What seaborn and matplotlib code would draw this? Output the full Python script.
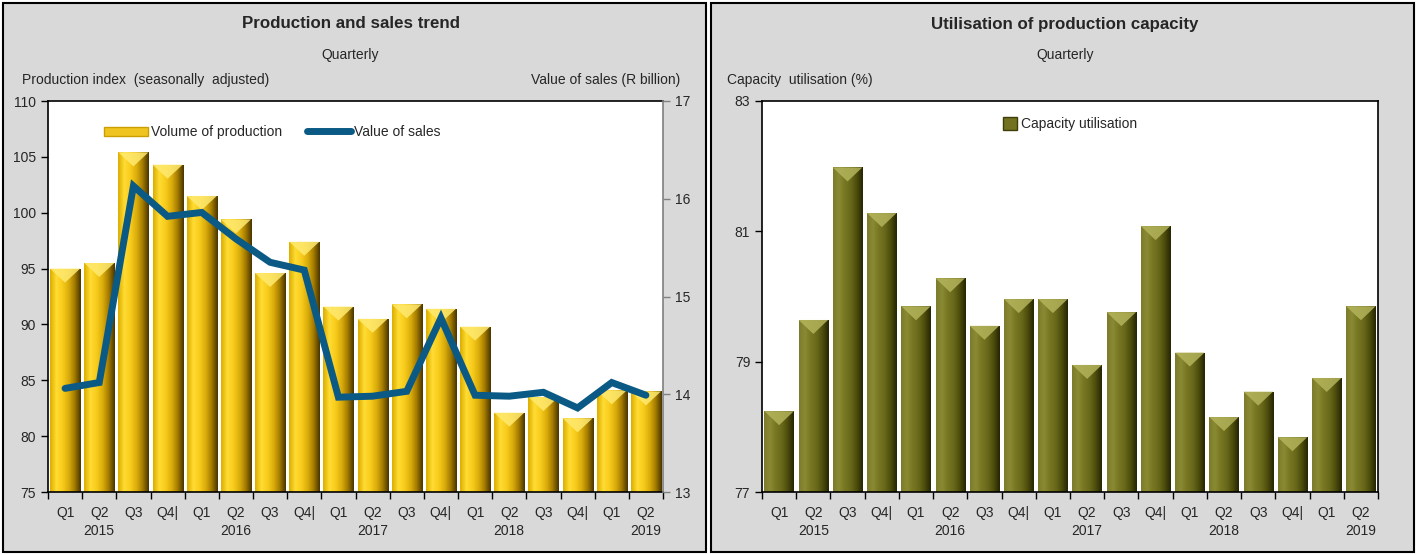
import numpy as np
import pandas as pd
import matplotlib
matplotlib.use("Agg")
import matplotlib.pyplot as plt
import seaborn as sns
from matplotlib.colors import LinearSegmentedColormap
from matplotlib.patches import Rectangle, Polygon, Patch
from matplotlib.lines import Line2D

# Data
quarters = ["Q1", "Q2", "Q3", "Q4|", "Q1", "Q2", "Q3", "Q4|", "Q1", "Q2", "Q3", "Q4|",
            "Q1", "Q2", "Q3", "Q4|", "Q1", "Q2"]
year_row = ["", "2015", "", "", "", "2016", "", "", "", "2017", "", "",
            "", "2018", "", "", "", "2019"]
production = [95.0, 95.5, 105.4, 104.3, 101.5, 99.4, 94.6, 97.4, 91.6, 90.5, 91.8, 91.4,
              89.8, 82.1, 83.5, 81.6, 84.1, 84.0]
sales = [14.06, 14.12, 16.13, 15.82, 15.86, 15.59, 15.35, 15.27, 13.97, 13.98, 14.03, 14.78,
         13.99, 13.98, 14.02, 13.86, 14.12, 13.99]
capacity = [78.24, 79.64, 81.98, 81.28, 79.85, 80.28, 79.55, 79.96, 79.96, 78.95, 79.76, 81.08,
            79.14, 78.15, 78.54, 77.84, 78.75, 79.85]

sns.set_theme(style="white")
plt.rcParams["font.family"] = ["Liberation Sans", "DejaVu Sans"]
FS = 10

W, H = 1418, 555
fig = plt.figure(figsize=(W / 100, H / 100), dpi=100)
fig.patch.set_facecolor("white")

# grey panels with black frame
for x0, x1 in [(3, 706), (711, 1414)]:
    fig.add_artist(Rectangle((x0 / W, 3 / H), (x1 - x0) / W, (H - 6) / H,
                             transform=fig.transFigure, facecolor="#d9d9d9",
                             edgecolor="black", linewidth=1.5, zorder=-10))

gold_cmap = LinearSegmentedColormap.from_list(
    "gold", ["#dcae00", "#ffdc34", "#f8cc1c", "#dcae0c", "#a47c00", "#4a3600"])
olive_cmap = LinearSegmentedColormap.from_list(
    "olive", ["#7c7c2c", "#8a8a34", "#767622", "#68681a", "#4c4c0c", "#262604"])
grad = np.linspace(0, 1, 64).reshape(1, -1)


def shade_bars(ax, cmap, top_color, ylim):
    d = 14 / 391 * (ylim[1] - ylim[0])
    for p in list(ax.patches):
        x0, y0 = p.get_x(), p.get_y()
        w, h = p.get_width(), p.get_height()
        top = y0 + h
        bottom = max(y0, ylim[0])
        im = ax.imshow(grad, extent=[x0, x0 + w, bottom, top], aspect="auto",
                       cmap=cmap, zorder=2, interpolation="bilinear")
        im.set_clip_path(p)
        ax.add_patch(Polygon([(x0, top), (x0 + w, top), (x0 + w / 2, top - d)],
                             closed=True, facecolor=top_color, edgecolor="none",
                             alpha=0.85, zorder=3))


def setup_x(ax):
    n = len(quarters)
    ax.set_xlim(-0.5, n - 0.5)
    labels = [q + ("\n" + y if y else "\n") for q, y in zip(quarters, year_row)]
    ax.set_xticks(range(n))
    ax.set_xticklabels(labels, va="top", linespacing=1.4)
    ax.set_xticks(np.arange(-0.5, n, 1.0), minor=True)
    ax.tick_params(axis="x", which="major", length=0, pad=10, labelsize=FS)
    ax.tick_params(axis="x", which="minor", length=5, width=1, color="black",
                   direction="out", bottom=True)
    ax.set_xlabel("")


positions = np.arange(len(quarters))

# ---------------- left: production and sales ----------------
ax = fig.add_axes([48 / W, 63 / H, 615 / W, 391 / H])
ax.set_facecolor("white")
df = pd.DataFrame({"pos": positions, "quarter": quarters, "production": production,
                   "sales": sales})
sns.barplot(data=df, x="pos", y="production", color="#f0c420", width=0.88,
            edgecolor="none", ax=ax, zorder=1)
ylim = (75, 110)
shade_bars(ax, gold_cmap, "#ffea70", ylim)
ax.set_ylim(*ylim)
ax.set_yticks(np.arange(75, 111, 5))
ax.tick_params(axis="y", which="major", length=5, width=1, color="black",
               direction="out", left=True, labelsize=FS)
ax.set_ylabel("")
setup_x(ax)
for s in ["left", "bottom", "top"]:
    ax.spines[s].set_color("black")
    ax.spines[s].set_linewidth(1.2)
ax.spines["right"].set_visible(False)

ax2 = ax.twinx()
sns.lineplot(data=df, x="pos", y="sales", color="#0a5a85", linewidth=5, ax=ax2,
             solid_capstyle="round", solid_joinstyle="miter")
ax2.set_ylim(13, 17)
ax2.set_yticks([13, 14, 15, 16, 17])
ax2.set_ylabel("")
ax2.tick_params(axis="y", length=5, width=1, color="#808080", direction="out",
                right=True, labelsize=FS)
ax2.spines["right"].set_color("#808080")
ax2.spines["right"].set_linewidth(1.2)
for s in ["left", "bottom", "top"]:
    ax2.spines[s].set_visible(False)
ax2.set_xlim(-0.5, len(quarters) - 0.5)

handles = [Patch(facecolor="#f0c420", edgecolor="#c9a000"),
           Line2D([0], [0], color="#0a5a85", linewidth=5, solid_capstyle="round")]
ax2.legend(handles, ["Volume of production", "Value of sales"], loc="upper left",
           bbox_to_anchor=(0.07, 0.97), ncol=2, frameon=False, fontsize=FS,
           handlelength=3.2, handletextpad=0.2, columnspacing=1.8)

fig.text(351 / W, 1 - 24 / H, "Production and sales trend", ha="center", va="center",
         fontsize=12.2, fontweight="bold")
fig.text(350 / W, 1 - 55 / H, "Quarterly", ha="center", va="center", fontsize=FS)
fig.text(22 / W, 1 - 80 / H, "Production index  (seasonally  adjusted)", ha="left",
         va="center", fontsize=FS)
fig.text(680 / W, 1 - 80 / H, "Value of sales (R billion)", ha="right", va="center",
         fontsize=FS)

# ---------------- right: capacity utilisation ----------------
bx = fig.add_axes([762 / W, 63 / H, 616 / W, 391 / H])
bx.set_facecolor("white")
df2 = pd.DataFrame({"pos": positions, "capacity": capacity})
sns.barplot(data=df2, x="pos", y="capacity", color="#727220", width=0.86,
            edgecolor="none", ax=bx, zorder=1)
ylim2 = (77, 83)
shade_bars(bx, olive_cmap, "#b4b45c", ylim2)
bx.set_ylim(*ylim2)
bx.set_yticks([77, 79, 81, 83])
bx.tick_params(axis="y", which="major", length=5, width=1, color="black",
               direction="out", left=True, labelsize=FS)
bx.set_ylabel("")
setup_x(bx)
for s in ["left", "bottom", "top", "right"]:
    bx.spines[s].set_color("black")
    bx.spines[s].set_linewidth(1.2)
bx.legend([Patch(facecolor="#727220", edgecolor="#3e3e08")], ["Capacity utilisation"],
          loc="upper center", bbox_to_anchor=(0.5, 0.99), frameon=False, fontsize=FS,
          handlelength=1.0, handleheight=1.0, handletextpad=0.3)

fig.text(1065 / W, 1 - 24 / H, "Utilisation of production capacity", ha="center",
         va="center", fontsize=12.2, fontweight="bold")
fig.text(1065 / W, 1 - 55 / H, "Quarterly", ha="center", va="center", fontsize=FS)
fig.text(727 / W, 1 - 80 / H, "Capacity  utilisation (%)", ha="left", va="center",
         fontsize=FS)

fig.savefig("out.png", dpi=100)
